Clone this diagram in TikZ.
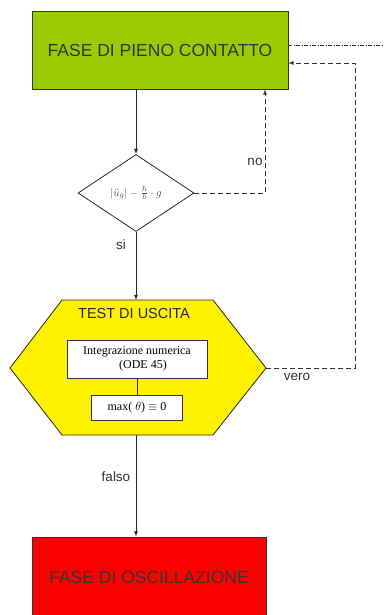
\documentclass[tikz,border=0pt]{standalone}
\usepackage{fontspec}
\setmainfont{Liberation Sans}
\setsansfont{Liberation Sans}
\newfontfamily\timesfont{Liberation Serif}
\usetikzlibrary{shapes.geometric}
\definecolor{contactgreen}{RGB}{153,204,0}
\definecolor{testyellow}{RGB}{255,242,0}
\definecolor{oscred}{RGB}{255,0,0}

\begin{document}
\begin{tikzpicture}[x=1pt, y=-1pt, font=\sffamily, thick,
		phase/.style={draw=black!80, inner sep=0pt, minimum height=78pt, font=\sffamily\fontsize{17.5}{19}\selectfont},
		inbox/.style={draw=black!80, fill=white, inner sep=0pt, align=center, font=\timesfont\fontsize{12}{14}\selectfont},
		lbl/.style={font=\sffamily\fontsize{13.5}{15}\selectfont, text=black!80},
		flow/.style={-latex, black!85},
		back/.style={-latex, black!80, dash pattern=on 5pt off 3pt}]
			\useasboundingbox (0,0) rectangle (384,615);
			\node[phase, fill=contactgreen, minimum width=256pt, text=black!80] (pieno) at (160,50) {FASE DI PIENO CONTATTO};
			\node[draw=black!85, diamond, fill=white, minimum width=116pt, minimum height=77pt, inner sep=0pt,
				font=\fontsize{11}{12}\selectfont, text=black!70] (cond) at (136,193) {$\bigl|\ddot{u}_g\bigr| - \frac{h}{b}\cdot g$};
			\coordinate (hexN) at (136,300); \coordinate (hexE) at (266,368);
			\coordinate (hexS) at (136,435); \coordinate (hexW) at (10,368);
			\draw[black!85, fill=testyellow] (62,300) -- (213,300) -- (hexE) -- (213,435) -- (62,435) -- (hexW) -- cycle;
			\node[lbl, text=black!85, font=\sffamily\fontsize{14.5}{16}\selectfont] (titolo) at (134,314) {TEST DI USCITA};
			\node[inbox, minimum width=140pt, minimum height=38pt] (integr) at (137,359) {Integrazione numerica\\\quad(ODE 45)};
			\node[inbox, minimum width=91pt, minimum height=25pt] (massimo) at (137,408) {max( $\theta$) $\equiv$ 0};
			\node[phase, fill=oscred, minimum width=234pt, minimum height=80pt, text=black!80] (oscill) at (149,577) {FASE DI OSCILLAZIONE};
			\coordinate (fuori) at (384,45); \coordinate (ritorno) at (355,63); \coordinate (noangolo) at (265,193);
			% collegamenti principali
			\draw[flow] (cond.north |- pieno.south) -- (cond.north);
			\draw[flow] (cond.south) -- (hexN);
			\draw[black!85] (integr.south) -- (massimo.north);
			\draw[flow] (hexS) -- (hexS |- oscill.north);
			% ritorni tratteggiati
			\draw[back] (cond.east) -- (noangolo) -- (noangolo |- pieno.south);
			\draw[back] (hexE) -- (ritorno |- hexE) -- (ritorno) -- (ritorno -| pieno.east);
			\draw[black!80, dash pattern=on 4pt off 1.5pt on 1pt off 1.5pt] (fuori -| pieno.east) -- (fuori);
			\node[lbl] (no) at (255,162) {no};
			\node[lbl] (si) at (121,245) {si};
			\node[lbl] (vero) at (297,377) {vero};
			\node[lbl] (falso) at (116,477) {falso};
\end{tikzpicture}
\end{document}
